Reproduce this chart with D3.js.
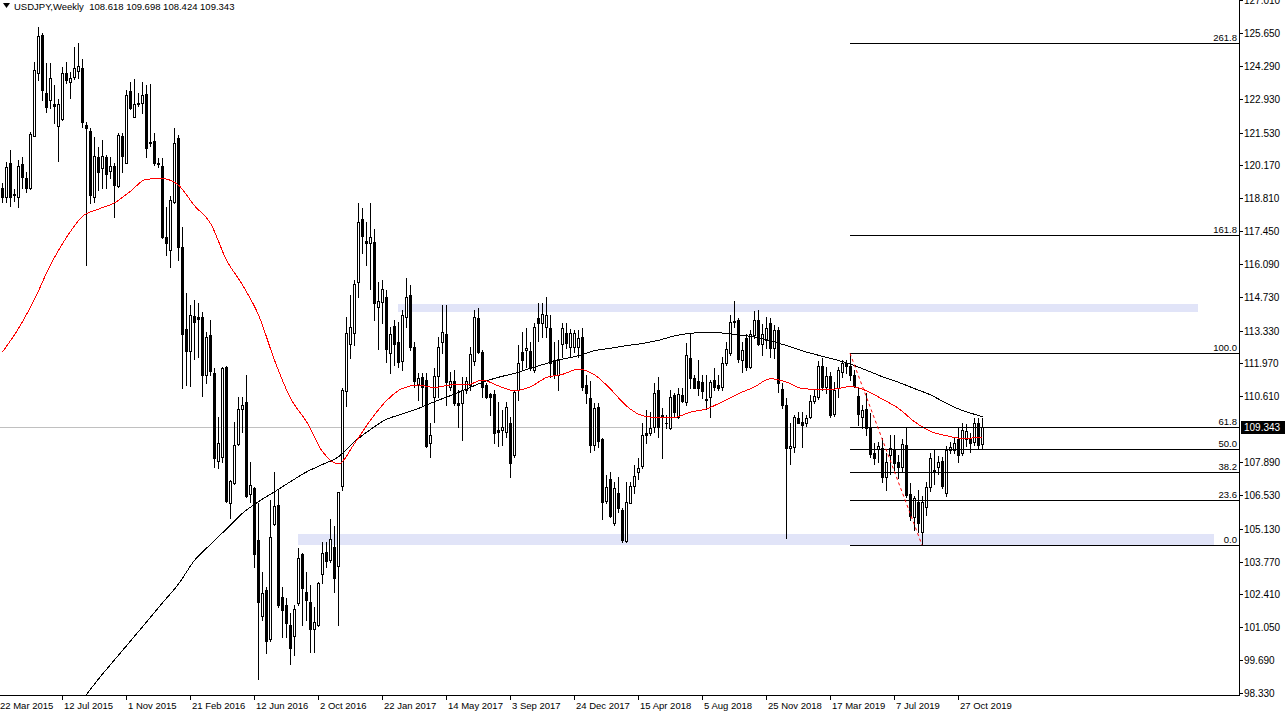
<!DOCTYPE html>
<html><head><meta charset="utf-8">
<script src="https://cdn.jsdelivr.net/npm/d3@7"></script>
<style>
html,body{margin:0;padding:0;background:#fff;overflow:hidden}
svg{display:block;font-family:"Liberation Sans",Arial,sans-serif}
</style>
</head><body>
<svg id="chart" width="1287" height="717"></svg>
<script>
// ---------------- data ----------------
const symbol = "USDJPY";
const period = "Weekly";
const firstBarDate = "29 Mar 2015";

const open = [
119.22,118.88,120.28,118.98,118.85,120.23,119.64,119.25,121.40,124.01,
125.57,123.18,122.88,122.70,121.82,122.09,123.98,123.64,123.84,124.09,
124.19,121.84,121.61,118.88,120.53,120.08,120.53,119.95,120.15,119.33,
121.40,120.28,123.25,122.19,122.77,122.77,123.13,121.13,121.18,120.28,
120.15,117.19,116.67,118.64,121.29,116.78,113.39,112.50,113.94,113.91,
113.91,111.49,113.13,111.59,107.95,108.11,111.81,106.18,107.04,108.64,
110.07,110.39,106.57,106.80,104.66,101.52,102.59,100.55,105.31,106.11,
102.29,101.97,101.14,100.70,102.04,104.08,102.52,102.11,100.96,101.14,
103.24,104.15,103.83,104.36,103.60,106.90,110.84,112.78,113.24,115.36,
117.94,117.04,116.94,116.98,114.29,114.53,114.71,112.42,113.52,112.87,
112.08,113.88,114.80,112.66,111.07,111.39,111.30,108.69,110.57,111.45,
112.87,113.19,111.01,111.26,110.35,110.32,110.87,111.08,112.08,113.84,
112.46,111.08,110.70,110.70,109.22,109.22,109.15,109.49,108.18,110.87,
112.46,112.53,112.49,111.70,113.84,113.66,113.49,113.42,112.11,111.49,
112.77,113.22,112.66,112.66,112.66,113.08,111.08,110.53,108.60,110.15,
108.84,106.28,107.19,105.35,106.59,105.91,104.62,106.18,106.91,107.46,
107.74,109.08,109.08,109.35,110.87,109.84,109.52,109.29,110.67,109.77,
110.67,110.39,112.21,111.35,111.24,111.19,110.50,110.60,111.29,111.08,
111.01,111.97,112.39,113.73,113.77,112.11,113.01,111.84,113.15,113.77,
112.76,112.94,113.63,112.62,113.36,110.90,110.25,108.46,108.50,109.70,
109.56,109.49,109.74,110.42,110.60,111.87,111.01,111.45,109.88,110.94,
111.63,111.98,111.87,111.49,110.62,109.74,110.07,109.29,108.28,108.42,
108.46,107.28,108.18,108.42,107.91,107.67,108.60,106.57,105.63,106.25,
105.01,106.04,106.87,107.53,107.70,107.95,106.62,108.39,108.39,108.85,
108.25,108.85,108.90,108.73,109.49,108.618];

const high = [
119.45,120.33,120.81,119.20,120.39,120.53,119.90,121.57,124.47,125.89,
125.64,124.40,124.40,123.50,122.91,124.26,124.47,124.05,125.09,125.25,
124.56,121.98,121.71,121.36,120.95,121.22,120.60,120.53,120.26,121.50,
121.50,123.29,123.64,123.73,123.18,123.64,123.50,123.54,121.50,120.46,
120.49,118.46,118.90,121.71,121.43,117.63,114.88,114.39,114.60,114.46,
114.11,113.29,113.77,111.77,109.77,111.84,111.86,107.15,109.56,110.59,
110.59,111.49,107.90,106.87,106.18,103.35,102.73,106.32,107.49,106.73,
102.73,102.25,101.63,101.97,104.32,104.11,103.35,102.80,101.90,102.94,
104.59,104.60,105.52,105.24,106.66,110.94,113.91,114.80,115.42,118.63,
118.39,117.84,118.60,117.52,115.36,115.42,115.01,113.49,113.77,113.70,
114.18,115.50,115.20,112.87,111.56,111.56,111.56,109.52,111.77,113.08,
114.39,114.39,111.63,111.70,110.87,111.42,111.42,112.66,114.18,114.25,
112.53,111.15,110.73,110.87,110.39,110.04,110.39,109.77,110.87,112.73,
113.29,113.42,112.87,113.63,114.46,114.46,114.73,113.97,112.87,112.94,
113.63,113.63,113.38,113.36,113.36,113.42,111.49,111.24,110.32,110.32,
108.87,107.35,107.49,107.08,107.28,105.97,107.08,107.08,107.77,108.04,
109.49,110.04,109.97,111.15,111.42,110.11,109.84,110.87,110.73,110.94,
110.94,112.80,113.20,111.49,112.11,111.49,111.49,111.29,111.80,111.49,
112.25,112.87,113.97,114.56,113.84,112.87,113.18,113.36,114.14,114.18,
113.59,113.91,113.84,113.56,113.49,111.15,110.53,109.49,109.84,109.97,
109.97,109.84,110.66,110.87,112.09,112.18,111.84,111.63,111.22,111.84,
112.11,112.11,112.39,111.70,111.01,110.25,110.73,109.91,108.66,108.73,
108.87,108.25,109.00,109.00,108.18,108.83,109.35,107.01,106.50,106.73,
106.50,107.08,108.25,108.39,108.14,108.11,108.56,108.70,108.90,109.28,
109.50,109.45,109.10,109.70,109.70,109.698];

const low = [
118.67,118.67,118.49,118.70,118.46,119.22,119.08,119.19,121.40,123.71,
122.88,122.40,122.53,121.91,120.37,122.05,123.57,122.97,123.73,123.78,
121.77,116.05,118.60,118.67,119.15,119.22,119.22,119.64,118.05,119.29,
119.91,120.26,122.49,122.19,122.63,122.33,120.53,120.98,120.19,120.12,
117.15,116.46,115.95,118.60,116.26,110.94,111.08,111.04,112.14,112.25,
110.64,111.17,111.49,107.67,107.63,107.90,106.25,105.56,107.00,108.59,
109.15,106.46,106.25,103.56,98.89,101.35,99.97,100.50,105.28,101.90,
100.66,100.66,99.51,99.90,101.97,101.14,101.35,100.04,100.04,101.10,
102.87,103.55,103.76,102.52,101.14,106.73,110.21,112.18,112.73,114.71,
116.53,116.05,115.04,113.77,112.55,113.63,112.04,111.56,111.91,111.84,
111.70,113.50,112.53,111.01,110.46,110.25,108.50,108.11,109.56,110.57,
112.39,110.25,110.87,110.25,109.35,108.80,110.73,110.87,111.90,112.39,
110.59,110.53,109.84,108.66,108.55,108.60,108.94,107.28,108.11,110.46,
111.73,111.84,111.70,111.63,112.90,113.08,113.08,111.42,111.35,110.87,
112.25,112.60,112.25,112.46,112.25,110.87,110.32,108.32,108.39,108.50,
105.53,106.18,105.63,105.28,105.84,104.59,104.59,106.18,106.59,107.20,
107.63,108.66,109.01,109.15,108.94,108.07,109.29,109.24,109.77,109.73,
110.36,110.25,110.97,110.94,110.67,110.53,110.10,109.77,110.87,110.87,
110.87,111.91,112.32,113.49,112.04,111.63,111.70,111.77,113.01,112.74,
112.32,112.60,112.25,112.21,110.80,110.11,104.73,107.80,108.32,109.49,
108.50,109.38,109.70,110.32,110.50,110.87,110.73,109.74,109.80,110.60,
111.42,111.56,111.30,111.00,109.42,109.29,109.00,108.11,107.81,107.90,
107.08,106.75,107.40,107.56,107.21,107.50,106.46,105.49,105.08,105.01,
104.455,105.70,106.70,107.00,107.40,106.80,106.50,108.25,108.25,107.90,
108.18,108.55,108.30,108.60,108.46,108.424];

const close = [
118.88,120.12,118.88,118.93,120.16,119.70,119.25,121.46,124.12,125.53,
123.29,122.60,123.78,122.63,122.70,123.98,123.71,123.78,124.19,124.29,
121.95,121.70,118.95,120.56,119.91,120.56,119.81,120.15,119.36,121.43,
120.57,123.07,122.53,122.70,122.70,123.07,120.90,121.10,120.26,120.23,
117.19,116.94,118.72,121.08,116.81,113.19,112.50,113.96,113.70,113.80,
111.49,113.08,111.66,108.04,108.69,111.77,106.29,107.10,108.59,110.07,
110.25,106.48,106.94,104.08,102.08,102.45,100.49,104.80,106.07,101.97,
101.76,101.24,100.18,101.80,103.90,102.66,102.20,100.96,101.28,102.87,
104.11,103.81,104.69,103.08,106.63,110.87,113.22,113.49,115.25,117.84,
117.26,116.94,117.22,114.46,114.57,115.04,112.55,113.19,112.77,112.04,
113.97,114.73,112.64,111.26,111.35,111.01,108.55,109.01,111.45,112.64,
113.29,111.22,111.26,110.32,110.25,110.87,111.26,112.36,113.88,112.46,
111.01,110.59,110.59,109.10,109.15,109.35,110.18,107.83,110.80,111.97,
112.11,112.60,111.77,113.49,113.63,114.02,113.97,111.97,111.49,112.15,
113.42,112.80,113.24,113.22,113.01,110.98,110.73,108.60,110.11,108.76,
106.25,106.84,105.67,106.80,105.97,104.66,106.22,106.91,107.31,107.63,
109.01,109.01,109.31,110.73,109.35,109.77,109.49,110.60,109.95,110.69,
110.42,112.32,111.38,110.97,110.94,110.83,110.45,111.19,111.01,110.97,
112.01,112.56,113.67,113.67,112.15,112.53,111.84,113.18,113.77,112.76,
113.18,113.42,112.62,113.36,111.15,110.25,108.46,108.55,109.74,109.52,
109.42,109.70,110.42,110.62,111.87,111.01,111.45,109.84,110.87,111.70,
112.00,111.87,111.49,111.04,109.88,110.04,109.29,108.22,108.04,108.56,
107.28,107.91,108.46,107.86,107.67,108.64,106.53,105.66,106.39,105.35,
106.25,106.87,108.04,107.58,107.91,106.90,108.39,108.53,108.66,108.18,
109.22,109.18,108.67,109.49,108.60,109.343];

// moving averages: [bar index, value]
const redMA = [
[0,112.45],[4,113.42],[8,114.63],[12,116.05],[16,117.19],[20,118.06],[24,118.36],[28,118.62],
[32,119.10],[36,119.60],[40,119.62],[44,119.35],[48,118.50],[52,117.77],[56,116.25],[60,115.22],
[64,113.98],[68,112.11],[72,110.53],[76,109.56],[80,108.32],[84,107.81],[88,108.66],[92,109.63],
[96,110.43],[100,110.94],[104,111.08],[108,110.97],[112,111.08],[116,111.08],[120,111.28],[124,111.04],
[128,110.84],[132,111.01],[136,111.39],[140,111.52],[144,111.73],[148,111.50],[152,110.91],[156,110.21],
[160,109.81],[164,109.73],[168,109.74],[172,109.96],[176,110.09],[180,110.39],[184,110.72],[188,111.00],
[192,111.34],[196,111.20],[200,110.93],[204,110.90],[208,110.91],[212,111.02],[216,110.84],[220,110.49],
[224,110.11],[228,109.56],[232,109.16],[236,108.98],[240,108.87],[244,108.90],[245,108.91]];

const blackMA = [
[20,98.05],[24,98.91],[28,99.70],[32,100.48],[36,101.27],[40,102.06],[44,102.84],[48,103.82],
[52,104.48],[56,105.12],[60,105.77],[64,106.25],[68,106.66],[72,107.08],[76,107.48],[80,107.79],
[84,108.11],[88,108.73],[92,109.24],[96,109.66],[100,109.88],[104,110.11],[108,110.39],[112,110.64],
[116,110.91],[120,111.19],[124,111.40],[128,111.56],[132,111.77],[136,111.97],[140,112.15],[144,112.29],
[148,112.50],[152,112.60],[156,112.71],[160,112.80],[164,112.93],[168,113.11],[172,113.22],[176,113.26],
[180,113.23],[184,113.15],[188,113.07],[192,112.91],[196,112.71],[200,112.49],[204,112.31],[208,112.14],
[212,111.94],[216,111.69],[220,111.42],[224,111.19],[228,110.93],[232,110.67],[236,110.32],[240,110.02],
[244,109.82],[245,109.77]];

const dateLabels = ["22 Mar 2015","12 Jul 2015","1 Nov 2015","21 Feb 2016","12 Jun 2016","2 Oct 2016",
"22 Jan 2017","14 May 2017","3 Sep 2017","24 Dec 2017","15 Apr 2018","5 Aug 2018","25 Nov 2018",
"17 Mar 2019","7 Jul 2019","27 Oct 2019"];

const priceLabels = ["127.010","125.650","124.290","122.930","121.530","120.170","118.810","117.450",
"116.090","114.730","113.330","111.970","110.610","107.890","106.530","105.130","103.770","102.410",
"101.050","99.690","98.330"];

// Fibonacci retracement
const fibRatios = [0.0, 23.6, 38.2, 50.0, 61.8, 100.0, 161.8, 261.8];
const fibHighBar = 212, fibHighPrice = 112.39;
const fibLowBar = 230, fibLowPrice = 104.455;

// support / resistance zones
const zoneFromBar = [99, 74];
const zoneToBar = [299, 303];
const zoneTop = [114.43, 104.91];
const zoneBottom = [114.11, 104.455];

// ---------------- drawing ----------------
const W = 1287, H = 717;
const plotRight = 1239, plotBottom = 695;
const svg = d3.select("#chart");

const x = d3.scaleLinear().domain([0, 245]).range([2, 982]);
const y = d3.scaleLinear().domain([98.33, 125.65]).range([693, 33]);
const px = v => Math.round(x(v));
const py = v => Math.round(y(v));

const parse = d3.timeParse("%d %b %Y");
const t0 = parse(firstBarDate);
const barOf = s => Math.round((parse(s) - t0) / (7 * 864e5));

svg.append("rect").attr("width", W).attr("height", H).attr("fill", "#fff");

svg.append("clipPath").attr("id", "clip")
  .append("rect").attr("x", 0).attr("y", 0).attr("width", plotRight).attr("height", plotBottom);

const plot = svg.append("g").attr("clip-path", "url(#clip)").attr("shape-rendering", "crispEdges");

// zones
plot.selectAll("rect.zone").data(zoneTop).join("rect").attr("class", "zone")
  .attr("x", (d, k) => px(zoneFromBar[k]))
  .attr("y", (d, k) => py(zoneTop[k]))
  .attr("width", (d, k) => px(zoneToBar[k]) - px(zoneFromBar[k]))
  .attr("height", (d, k) => py(zoneBottom[k]) - py(zoneTop[k]))
  .attr("fill", "#E1E4F8");

// bid line
const last = close[close.length - 1];
plot.append("line").attr("x1", 0).attr("x2", plotRight)
  .attr("y1", py(last) + 0.5).attr("y2", py(last) + 0.5)
  .attr("stroke", "#C0C0C0");

// candles
const bars = d3.range(open.length);
plot.selectAll("line.wick").data(bars).join("line").attr("class", "wick")
  .attr("x1", i => px(i) + 0.5).attr("x2", i => px(i) + 0.5)
  .attr("y1", i => py(Math.max(high[i], open[i], close[i])))
  .attr("y2", i => py(Math.min(low[i], open[i], close[i])) + 1)
  .attr("stroke", "#000");

bars.forEach(i => {
  const top = py(Math.max(open[i], close[i]));
  const bot = py(Math.min(open[i], close[i]));
  const bull = close[i] >= open[i];
  if (bot - top < 1) {
    plot.append("line").attr("x1", px(i) - 1).attr("x2", px(i) + 2)
      .attr("y1", top + 0.5).attr("y2", top + 0.5).attr("stroke", "#000");
  } else {
    plot.append("rect").attr("x", px(i) - 0.5).attr("y", top + 0.5)
      .attr("width", 2).attr("height", bot - top)
      .attr("fill", bull ? "#fff" : "#000").attr("stroke", "#000");
  }
});

// moving averages
const maLine = d3.line().x(d => x(d[0]) + 0.5).y(d => y(d[1])).curve(d3.curveMonotoneX);
plot.append("path").datum(blackMA).attr("d", maLine)
  .attr("fill", "none").attr("stroke", "#000").attr("stroke-width", 1);
plot.append("path").datum(redMA).attr("d", maLine)
  .attr("fill", "none").attr("stroke", "#FF0000").attr("stroke-width", 1);

// fibonacci
const fibVal = r => fibLowPrice + (fibHighPrice - fibLowPrice) * r / 100;
plot.selectAll("line.fib").data(fibRatios).join("line").attr("class", "fib")
  .attr("x1", px(fibHighBar)).attr("x2", plotRight)
  .attr("y1", r => py(fibVal(r)) + 0.5).attr("y2", r => py(fibVal(r)) + 0.5)
  .attr("stroke", "#000");
plot.append("line")
  .attr("x1", x(fibHighBar)).attr("y1", y(fibHighPrice))
  .attr("x2", x(fibLowBar)).attr("y2", y(fibLowPrice))
  .attr("stroke", "#FF0000").attr("stroke-dasharray", "3,3").attr("shape-rendering", "auto");

svg.append("g").selectAll("text.fibl").data(fibRatios).join("text").attr("class", "fibl")
  .attr("x", plotRight - 2).attr("y", r => py(fibVal(r)) - 2)
  .attr("text-anchor", "end").attr("font-size", 9.5).attr("fill", "#000")
  .text(r => r.toFixed(1));

// axes frame
const axisG = svg.append("g").attr("shape-rendering", "crispEdges");
axisG.append("line").attr("x1", plotRight + 0.5).attr("x2", plotRight + 0.5)
  .attr("y1", 0).attr("y2", plotBottom + 1).attr("stroke", "#000");
axisG.append("line").attr("x1", 0).attr("x2", plotRight + 1)
  .attr("y1", plotBottom + 0.5).attr("y2", plotBottom + 0.5).attr("stroke", "#000");

// price axis
priceLabels.forEach(s => {
  const yy = py(+s);
  axisG.append("line").attr("x1", plotRight).attr("x2", plotRight + 4)
    .attr("y1", yy + 0.5).attr("y2", yy + 0.5).attr("stroke", "#000");
  svg.append("text").attr("x", plotRight + 5).attr("y", yy + 4)
    .attr("font-size", 10).attr("fill", "#000").text(s);
});

// current price tag
svg.append("rect").attr("x", plotRight + 2).attr("y", py(last) - 6)
  .attr("width", 44).attr("height", 13).attr("fill", "#000");
svg.append("text").attr("x", plotRight + 5).attr("y", py(last) + 4)
  .attr("font-size", 10).attr("fill", "#fff").text(last.toFixed(3));

// time axis
dateLabels.forEach(s => {
  const xx = px(barOf(s));
  axisG.append("line").attr("x1", xx + 0.5).attr("x2", xx + 0.5)
    .attr("y1", plotBottom).attr("y2", plotBottom + 5).attr("stroke", "#000");
  svg.append("text").attr("x", xx + 2).attr("y", plotBottom + 14)
    .attr("font-size", 9.5).attr("fill", "#000").text(s);
});

// title
svg.append("path").attr("d", "M3,3 L10,3 L6.5,8 Z").attr("fill", "#000");
const n = open.length - 1;
svg.append("text").attr("x", 14).attr("y", 9.5).attr("font-size", 9.5).attr("fill", "#000")
  .attr("xml:space", "preserve")
  .text(`${symbol},${period}  ${open[n].toFixed(3)} ${high[n].toFixed(3)} ${low[n].toFixed(3)} ${close[n].toFixed(3)}`);
</script>
</body></html>
